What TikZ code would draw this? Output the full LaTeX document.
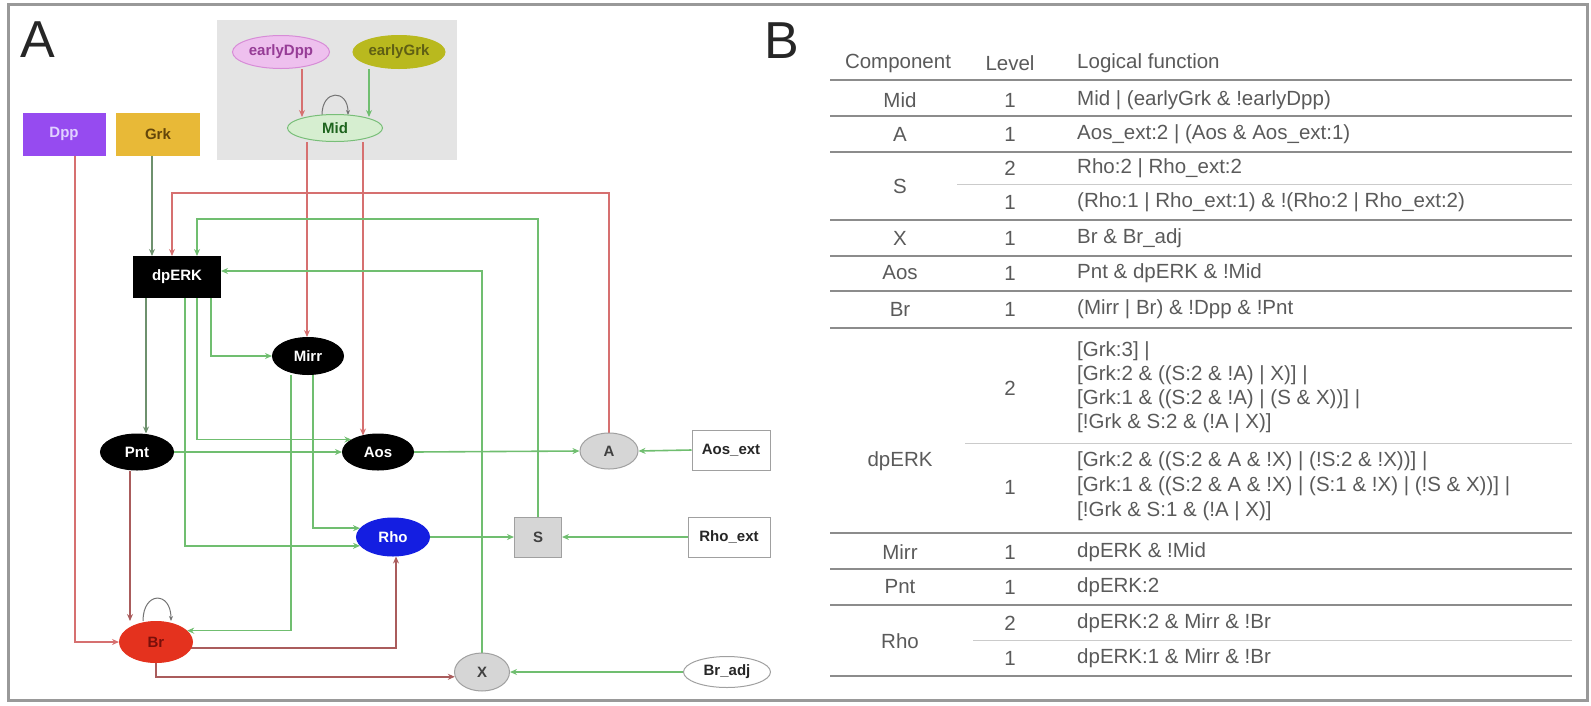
\documentclass[tikz,border=0pt]{standalone}
\usepackage{fontspec}
\setmainfont{Liberation Sans}
\usetikzlibrary{shapes.geometric,arrows.meta,backgrounds}
\definecolor{actg}{RGB}{112,190,112}
\definecolor{actdk}{RGB}{110,145,110}
\definecolor{inhr}{RGB}{214,112,112}
\definecolor{inhdk}{RGB}{170,92,92}
\definecolor{edppF}{RGB}{238,192,238}
\definecolor{edppD}{RGB}{215,140,215}
\definecolor{edppT}{RGB}{150,60,150}
\definecolor{egrkF}{RGB}{185,185,30}
\definecolor{egrkT}{RGB}{95,95,20}
\definecolor{midF}{RGB}{214,238,208}
\definecolor{midD}{RGB}{120,190,120}
\definecolor{midT}{RGB}{30,100,30}
\definecolor{dppF}{RGB}{150,75,240}
\definecolor{dppT}{RGB}{225,210,255}
\definecolor{grkF}{RGB}{232,185,55}
\definecolor{grkT}{RGB}{100,70,10}
\definecolor{rhoF}{RGB}{20,30,225}
\definecolor{brF}{RGB}{228,50,30}
\definecolor{brT}{RGB}{120,15,10}
\definecolor{grayF}{RGB}{214,214,214}
\definecolor{grayD}{RGB}{160,160,160}
\definecolor{boxbg}{RGB}{228,228,228}
\definecolor{tabline}{RGB}{140,140,140}
\definecolor{tabtext}{RGB}{90,90,90}
\tikzset{
  nlbl/.style={font=\fontsize{15}{15}\selectfont\bfseries, inner sep=0pt},
  nell/.style={ellipse, nlbl, draw, line width=1pt},
  nbox/.style={rectangle, nlbl, draw, line width=1pt},
  aact/.style={draw=actg, line width=1.6pt, -{Stealth[length=7pt,width=6pt]}},
  aactd/.style={draw=actdk, line width=1.4pt, -{Stealth[length=7pt,width=6pt]}},
  ainh/.style={draw=inhr, line width=1.6pt, -{Stealth[length=7pt,width=6pt]}},
  ainhd/.style={draw=inhdk, line width=1.6pt, -{Stealth[length=7pt,width=6pt]}},
  aloop/.style={draw=black!55, line width=1pt, -{Stealth[length=5pt,width=4pt]}},
  ttxt/.style={font=\fontsize{20.5}{24}\selectfont, text=tabtext, inner sep=0pt},
  tline/.style={draw=tabline, line width=2pt},
  tthin/.style={draw=tabline!45, line width=1pt},
  plbl/.style={font=\fontsize{52}{52}\selectfont, text=black!85, inner sep=0pt}
}
\begin{document}
\begin{tikzpicture}[x=1pt,y=-1pt]
\useasboundingbox (0,0) rectangle (1591,705);

% ---------------- panel A nodes ----------------
\node[plbl] (labA) at (38,40) {A};
\node[plbl] (labB) at (782,41) {B};

\node[nell, fill=edppF, draw=edppD, text=edppT, minimum width=97pt, minimum height=33pt] (earlyDpp) at (281,52) {earlyDpp};
\node[nell, fill=egrkF, draw=egrkF, text=egrkT, minimum width=92pt, minimum height=33pt] (earlyGrk) at (399,52) {earlyGrk};
\node[nell, fill=midF, draw=midD, text=midT, minimum width=95pt, minimum height=27pt] (Mid) at (335,128) {Mid};

\node[nbox, fill=dppF, draw=dppF, text=dppT, minimum width=82pt, minimum height=42pt] (Dpp) at (64,134) {Dpp};
\node[nbox, fill=grkF, draw=grkF, text=grkT, minimum width=83pt, minimum height=42pt] (Grk) at (158,134) {Grk};

\node[nbox, fill=black, draw=black, text=white, minimum width=87pt, minimum height=41pt] (dpERK) at (177,277) {dpERK};
\node[nell, fill=black, draw=black, text=white, minimum width=71pt, minimum height=37pt] (Mirr) at (308,356) {Mirr};
\node[nell, fill=black, draw=black, text=white, minimum width=73pt, minimum height=36pt] (Pnt) at (137,452) {Pnt};
\node[nell, fill=black, draw=black, text=white, minimum width=71pt, minimum height=36pt] (Aos) at (378,452) {Aos};
\node[nell, fill=rhoF, draw=rhoF, text=white, minimum width=73pt, minimum height=38pt] (Rho) at (393,537) {Rho};
\node[nell, fill=brF, draw=brF, text=brT, minimum width=73pt, minimum height=41pt] (Br) at (156,642) {Br};

\node[nell, fill=grayF, draw=grayD, text=black!75, minimum width=58pt, minimum height=36pt] (A) at (609,451) {A};
\node[nbox, fill=white, draw=grayD, text=black!85, minimum width=78pt, minimum height=40pt] (Aosext) at (731,450) {Aos\_ext};
\node[nbox, fill=grayF, draw=grayD, text=black!75, minimum width=47pt, minimum height=40pt] (S) at (538,537) {S};
\node[nbox, fill=white, draw=grayD, text=black!85, minimum width=82pt, minimum height=40pt] (Rhoext) at (729,537) {Rho\_ext};
\node[nell, fill=grayF, draw=grayD, text=black!75, minimum width=55pt, minimum height=38pt] (X) at (482,672) {X};
\node[nell, fill=white, draw=grayD, text=black!85, minimum width=87pt, minimum height=31pt] (Bradj) at (727,672) {Br\_adj};

\coordinate (r193) at (0,193);
\coordinate (r219) at (0,219);

% ---------------- background: frame, box, edges ----------------
\begin{scope}[on background layer]
\draw[line width=3pt, black!40] (8,4) rectangle (1587,700);
\fill[boxbg] (217,20) rectangle (457,160);

\draw[ainh] ([xshift=21pt]earlyDpp.south) -- ([xshift=-33pt,yshift=-3pt]Mid.north);
\draw[aact] ([xshift=-30pt]earlyGrk.south) -- ([xshift=34pt,yshift=-3pt]Mid.north);
\draw[aloop] ([xshift=-13pt,yshift=-1pt]Mid.north) .. controls +(0,-26) and +(0,-26) .. ([xshift=13pt,yshift=-1pt]Mid.north);
\draw[ainh] ([xshift=-28pt]Mid.south) -- ([xshift=-1pt]Mirr.north);
\draw[ainh] ([xshift=28pt]Mid.south) -- ([xshift=-15pt,yshift=-2pt]Aos.north);

\draw[ainh] ([xshift=11pt]Dpp.south) |- (Br.west);
\draw[aactd] ([xshift=-6pt]Grk.south) -- ([xshift=-25pt]dpERK.north);
\draw[ainh] (A.north) -- (A.north |- r193) -| ([xshift=-5pt]dpERK.north);
\draw[aact] (S.north) -- (S.north |- r219) -| ([xshift=20pt]dpERK.north);
\draw[aact] (X.north) |- ([yshift=6pt]dpERK.east);

\draw[aactd] ([xshift=-31pt]dpERK.south) -- ([xshift=9pt]Pnt.north);
\draw[aact] ([xshift=8pt]dpERK.south) |- (Rho.195);
\draw[aact] ([xshift=20pt]dpERK.south) |- (Aos.155);
\draw[aact] ([xshift=34pt]dpERK.south) |- (Mirr.west);
\draw[aact] ([xshift=-17pt]Mirr.south) |- (Br.20);
\draw[aact] ([xshift=5pt]Mirr.south) |- (Rho.165);
\draw[aact] (Pnt.east) -- (Aos.west);
\draw[ainhd] ([xshift=-7pt]Pnt.south) -- ([xshift=-26pt]Br.north);
\draw[aloop] ([xshift=-13pt]Br.north) .. controls +(0,-30) and +(0,-30) .. ([xshift=15pt]Br.north);
\draw[ainhd] (Br.-10) -| ([xshift=3pt]Rho.south);
\draw[ainhd] (Br.south) |- (X.190);

\draw[aact] (Aos.east) -- (A.west);
\draw[aact] (Aosext.west) -- (A.east);
\draw[aact] (Rho.east) -- (S.west);
\draw[aact] (Rhoext.west) -- (S.east);
\draw[aact] (Bradj.west) -- (X.east);
\end{scope}

% ---------------- panel B table ----------------
\draw[tline] (830,80) -- (1572,80);
\draw[tline] (830,116) -- (1572,116);
\draw[tline] (830,152) -- (1572,152);
\draw[tthin] (957,184) -- (1572,184);
\draw[tline] (830,220) -- (1572,220);
\draw[tline] (830,256) -- (1572,256);
\draw[tline] (830,291) -- (1572,291);
\draw[tline] (830,328) -- (1572,328);
\draw[tthin] (965,443) -- (1572,443);
\draw[tline] (830,533) -- (1572,533);
\draw[tline] (830,569) -- (1572,569);
\draw[tline] (830,605) -- (1572,605);
\draw[tthin] (973,640) -- (1572,640);
\draw[tline] (830,676) -- (1572,676);

\node[ttxt] (h1) at (898,63) {Component};
\node[ttxt] (h2) at (1010,63) {Level};
\node[ttxt, anchor=west] (h3) at (1077,63) {Logical function};

\node[ttxt] (c1) at (900,100) {Mid};
\node[ttxt] (l1) at (1010,100) {1};
\node[ttxt, anchor=west] (f1) at (1077,100) {Mid | (earlyGrk \& !earlyDpp)};

\node[ttxt] (c2) at (900,134) {A};
\node[ttxt] (l2) at (1010,134) {1};
\node[ttxt, anchor=west] (f2) at (1077,134) {Aos\_ext:2 | (Aos \& Aos\_ext:1)};

\node[ttxt] (c3) at (900,186) {S};
\node[ttxt] (l3a) at (1010,168) {2};
\node[ttxt, anchor=west] (f3a) at (1077,168) {Rho:2 | Rho\_ext:2};
\node[ttxt] (l3b) at (1010,202) {1};
\node[ttxt, anchor=west] (f3b) at (1077,202) {(Rho:1 | Rho\_ext:1) \& !(Rho:2 | Rho\_ext:2)};

\node[ttxt] (c4) at (900,238) {X};
\node[ttxt] (l4) at (1010,238) {1};
\node[ttxt, anchor=west] (f4) at (1077,238) {Br \& Br\_adj};

\node[ttxt] (c5) at (900,273) {Aos};
\node[ttxt] (l5) at (1010,273) {1};
\node[ttxt, anchor=west] (f5) at (1077,273) {Pnt \& dpERK \& !Mid};

\node[ttxt] (c6) at (900,309) {Br};
\node[ttxt] (l6) at (1010,309) {1};
\node[ttxt, anchor=west] (f6) at (1077,309) {(Mirr | Br) \& !Dpp \& !Pnt};

\node[ttxt] (c7) at (900,461) {dpERK};
\node[ttxt] (l7a) at (1010,388) {2};
\node[ttxt, anchor=west] (f7a) at (1077,351) {[Grk:3] |};
\node[ttxt, anchor=west] (f7b) at (1077,375) {[Grk:2 \& ((S:2 \& !A) | X)] |};
\node[ttxt, anchor=west] (f7c) at (1077,399) {[Grk:1 \& ((S:2 \& !A) | (S \& X))] |};
\node[ttxt, anchor=west] (f7d) at (1077,423) {[!Grk \& S:2 \& (!A | X)]};
\node[ttxt] (l7b) at (1010,487) {1};
\node[ttxt, anchor=west] (f7e) at (1077,461) {[Grk:2 \& ((S:2 \& A \& !X) | (!S:2 \& !X))] |};
\node[ttxt, anchor=west] (f7f) at (1077,486) {[Grk:1 \& ((S:2 \& A \& !X) | (S:1 \& !X) | (!S \& X))] |};
\node[ttxt, anchor=west] (f7g) at (1077,511) {[!Grk \& S:1 \& (!A | X)]};

\node[ttxt] (c8) at (900,552) {Mirr};
\node[ttxt] (l8) at (1010,552) {1};
\node[ttxt, anchor=west] (f8) at (1077,552) {dpERK \& !Mid};

\node[ttxt] (c9) at (900,587) {Pnt};
\node[ttxt] (l9) at (1010,587) {1};
\node[ttxt, anchor=west] (f9) at (1077,587) {dpERK:2};

\node[ttxt] (c10) at (900,641) {Rho};
\node[ttxt] (l10a) at (1010,623) {2};
\node[ttxt, anchor=west] (f10a) at (1077,623) {dpERK:2 \& Mirr \& !Br};
\node[ttxt] (l10b) at (1010,658) {1};
\node[ttxt, anchor=west] (f10b) at (1077,658) {dpERK:1 \& Mirr \& !Br};
\end{tikzpicture}
\end{document}
